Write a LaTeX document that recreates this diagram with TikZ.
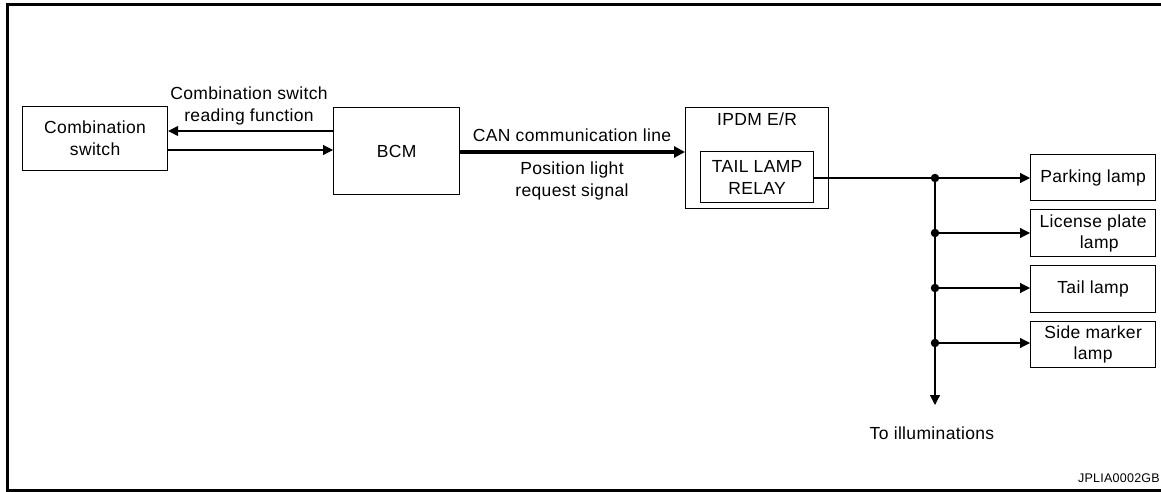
\documentclass[tikz,border=0pt]{standalone}
\usepackage{fontspec}
\setmainfont{Liberation Sans}[LetterSpace=2]
\usetikzlibrary{arrows.meta}
\begin{document}
\begin{tikzpicture}[x=1pt,y=-1pt,
  box/.style={draw,line width=1.2pt,minimum width=#1,anchor=north west,inner sep=0pt},
  lbl/.style={inner sep=0pt,align=center},
  wire/.style={line width=1.2pt},
  arr/.style={line width=1.2pt,-{Triangle[length=10pt,width=10pt]}},
  dot/.style={circle,fill,inner sep=0pt,minimum size=8.5pt},
  font=\fontsize{17.5}{22}\selectfont]
\useasboundingbox (0,0) rectangle (1161,492);
% frame
\draw[line width=3pt] (1161,4.5) -- (7.5,4.5) -- (7.5,490.5) -- (1161,490.5);
% boxes
\node[box=145pt,minimum height=64pt,align=center] (cs) at (22,106) {Combination\\switch};
\node[box=126pt,minimum height=87pt] (bcm) at (333,107) {BCM};
\node[draw,line width=1.2pt,inner sep=0pt,anchor=north west,minimum width=143pt,minimum height=101pt] (ipdm) at (685,107) {};
\node[lbl] (ipdmt) at (757,119) {IPDM E/R};
\node[box=113pt,minimum height=51pt,align=center] (relay) at (700,151) {TAIL LAMP\\RELAY};
\node[box=125pt,minimum height=46pt] (park) at (1030,154) {Parking lamp};
\node[box=125pt,minimum height=47pt,align=center] (lic) at (1030,209) {License plate\\[-1pt]\hspace*{0.7em}lamp};
\node[box=125pt,minimum height=47pt] (tail) at (1030,265) {Tail lamp};
\node[box=125pt,minimum height=46pt,align=center] (side) at (1030,321) {Side marker\\[-1pt]lamp};
% labels
\node[lbl] (l1) at (249,106) {Combination switch\\reading function};
\node[lbl] (l2) at (572,135) {CAN communication line};
\node[lbl] (l3) at (572,181) {Position light\\request signal};
\node[lbl] (l4) at (932,433) {To illuminations};
\node[inner sep=0pt,anchor=east,font=\fontsize{12.5}{14}\selectfont] (code) at (1160,478) {JPLIA0002GB};
% connectors
\draw[arr] (bcm.west |- 0,131) -- (cs.east |- 0,131);
\draw[arr] (cs.east |- 0,150) -- (bcm.west |- 0,150);
\draw[line width=4pt,-{Triangle[length=11pt,width=11pt]}] (bcm.east |- 0,152) -- (ipdm.west |- 0,152);
\coordinate (j1) at (935,178);
\coordinate (j2) at (935,233);
\coordinate (j3) at (935,288);
\coordinate (j4) at (935,343);
\coordinate (jend) at (935,405);
\draw[wire] (relay.east |- j1) -- (j1);
\draw[arr] (j1) -- (j1 -| park.west);
\draw[arr] (j2) -- (j2 -| lic.west);
\draw[arr] (j3) -- (j3 -| tail.west);
\draw[arr] (j4) -- (j4 -| side.west);
\draw[arr] (j1) -- (jend);
\foreach \j in {j1,j2,j3,j4} \node[dot] at (\j) {};
\end{tikzpicture}
\end{document}
